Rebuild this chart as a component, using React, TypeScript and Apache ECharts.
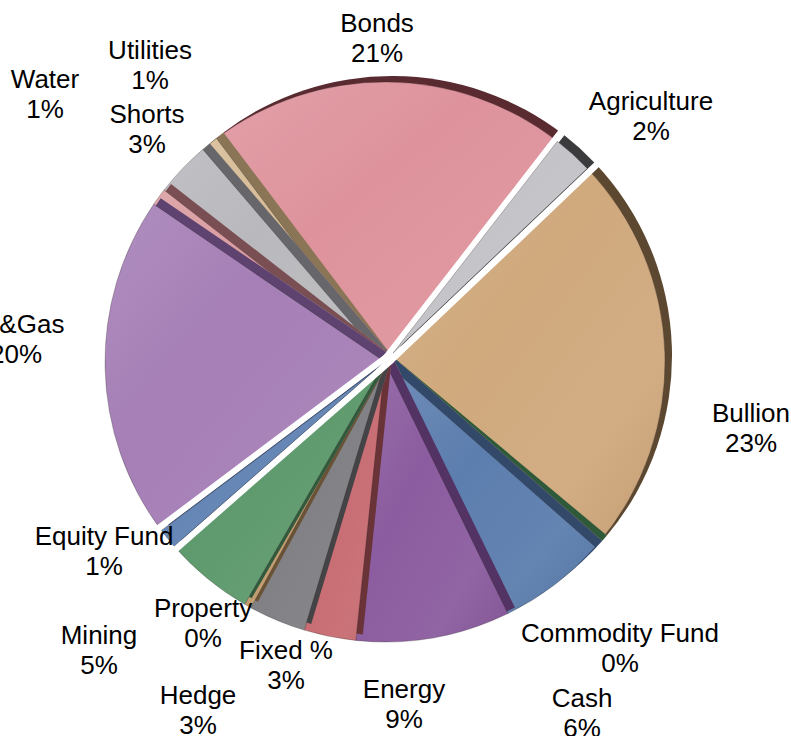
import React, { useEffect, useRef } from "react";
import * as echarts from "echarts";

const categories = [
  "Bonds", "Agriculture", "Bullion", "Commodity Fund", "Cash", "Energy", "Fixed %",
  "Hedge", "Property", "Mining", "Equity Fund", "Oil&Gas", "Water", "Shorts", "Utilities",
];
const values = [20.8, 2.4, 23.2, 0.4, 6.3, 8.9, 3.0, 3.3, 0.4, 5.2, 1.2, 19.8, 1.0, 3.2, 1.0];
const exploded = ["Agriculture", "Equity Fund"];

const faceColors = [
  "#de939c", "#c4c4c8", "#d0a97d", "#4f8d5e", "#5c7eae", "#8b5c9f", "#c76c72",
  "#808084", "#c09d70", "#5e9a6d", "#6485b4", "#a57fb6", "#d99ca0", "#b9b9bd", "#d6bb95",
];
const sideColors = [
  "#5a2a31", "#3b3b3e", "#5c4830", "#2f5a3a", "#33496a", "#533264", "#6a3338",
  "#444447", "#6a5236", "#345a3e", "#35496b", "#5e4270", "#7a4f53", "#66666b", "#8a7556",
];

// label anchor points (layout, pixels)
const labelAnchors: [number, number][] = [
  [377, 38], [651, 116], [751, 428], [620, 648], [582, 713], [404, 704], [286, 665],
  [198, 710], [203, 623], [99, 650], [104, 551], [16, 339], [45, 94], [147, 129], [150, 65],
];

const CX = 385, CY = 362, R = 280, START = 127;
const SIDE_DX = 7, SIDE_DY = -6;
const EXPLODE = 12;
const EXPLODED_R = 268;
const GAP_WIDTH = 12;

function mix(hex: string, target: number, t: number) {
  const n = parseInt(hex.slice(1), 16);
  const r = (n >> 16) & 255, g = (n >> 8) & 255, b = n & 255;
  const f = (c: number) => Math.round(c + (target - c) * t);
  return `rgb(${f(r)},${f(g)},${f(b)})`;
}

function faceFill(hex: string) {
  return {
    type: "linear", x: 0, y: 0, x2: 1, y2: 1,
    colorStops: [
      { offset: 0, color: mix(hex, 255, 0.12) },
      { offset: 0.4, color: hex },
      { offset: 0.75, color: mix(hex, 255, 0.05) },
      { offset: 1, color: mix(hex, 0, 0.06) },
    ],
  };
}

const CLEAR = "rgba(0,0,0,0)";

export default function App() {
  const ref = useRef<HTMLDivElement>(null);
  useEffect(() => {
    document.body.style.margin = "0";
    const chart = echarts.init(ref.current!, undefined, { renderer: "svg" });
    const font = "'Liberation Sans', Arial, Helvetica, sans-serif";
    const total = values.reduce((a, b) => a + b, 0);
    const midAngle = (idx: number) => {
      let before = 0;
      for (let i = 0; i < idx; i++) before += values[i];
      return ((START - ((before + values[idx] / 2) / total) * 360) * Math.PI) / 180;
    };

    const base = {
      type: "pie",
      startAngle: START,
      clockwise: true,
      avoidLabelOverlap: false,
      emphasis: { disabled: true },
      labelLine: { show: false },
      label: { show: false },
      silent: true,
    };

    const onlyPie = (idx: number, cx: number, cy: number, r: number, kind: "side" | "face", z: number) => ({
      ...base,
      radius: r,
      center: kind === "side" ? [cx + SIDE_DX, cy + SIDE_DY] : [cx, cy],
      z,
      data: categories.map((c, i) => ({
        name: c,
        value: values[i],
        itemStyle:
          i !== idx
            ? { color: CLEAR, borderWidth: 0 }
            : kind === "side"
            ? { color: sideColors[i], borderWidth: 0 }
            : { color: faceFill(faceColors[i]), borderColor: "rgba(40,30,30,0.35)", borderWidth: 0.8 },
      })),
    });

    const series: any[] = [];
    let z = 1;

    // painter's order: slices lying toward the extrusion direction first
    const dir = Math.atan2(-SIDE_DY, SIDE_DX);
    const normal = categories
      .map((c, i) => i)
      .filter((i) => !exploded.includes(categories[i]))
      .sort((a, b) => Math.cos(midAngle(b) - dir) - Math.cos(midAngle(a) - dir));
    normal.forEach((i) => {
      series.push(onlyPie(i, CX, CY, R, "side", z++));
      series.push(onlyPie(i, CX, CY, R, "face", z++));
    });

    series.push({
      ...base,
      radius: R + 12,
      center: [CX + SIDE_DX / 2, CY + SIDE_DY / 2],
      z: z++,
      data: categories.map((c, i) => ({
        name: c,
        value: values[i],
        itemStyle: exploded.includes(c)
          ? { color: "#ffffff", borderColor: "#ffffff", borderWidth: GAP_WIDTH, borderJoin: "round" }
          : { color: CLEAR, borderWidth: 0 },
      })),
    });

    exploded.forEach((name) => {
      const i = categories.indexOf(name);
      const a = midAngle(i);
      const ex = CX + Math.cos(a) * EXPLODE;
      const ey = CY - Math.sin(a) * EXPLODE;
      series.push(onlyPie(i, ex, ey, EXPLODED_R, "side", z++));
      series.push(onlyPie(i, ex, ey, EXPLODED_R, "face", z++));
    });

    series.push({
      ...base,
      radius: R,
      center: [CX, CY],
      z: z++,
      label: {
        show: true,
        position: "outside",
        formatter: (p: any) => `${p.name}\n${Math.round(p.percent)}%`,
        fontSize: 26,
        lineHeight: 30,
        color: "#000",
        fontFamily: font,
        align: "center",
      },
      labelLayout: (p: any) => ({
        x: labelAnchors[p.dataIndex][0],
        y: labelAnchors[p.dataIndex][1],
        align: "center",
        verticalAlign: "middle",
      }),
      data: categories.map((c, i) => ({
        name: c,
        value: values[i],
        itemStyle: { color: CLEAR, borderWidth: 0 },
      })),
    });

    chart.setOption({ animation: false, backgroundColor: "#ffffff", series });
    return () => chart.dispose();
  }, []);
  return <div ref={ref} style={{ width: 791, height: 736 }} />;
}
